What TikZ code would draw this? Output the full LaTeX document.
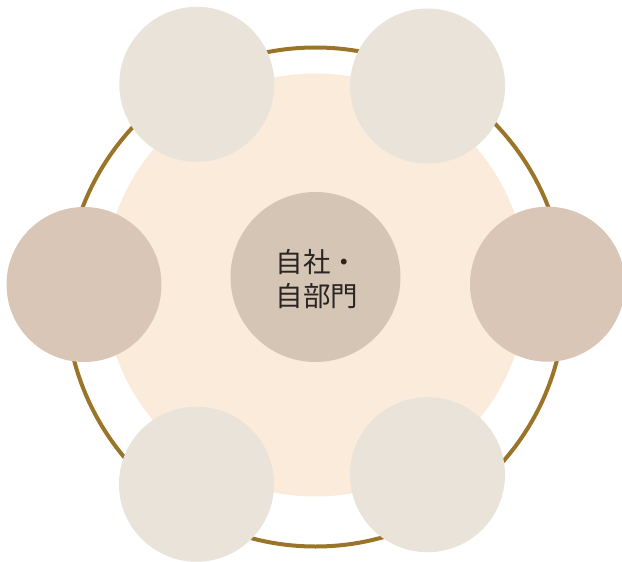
\documentclass[tikz,border=0pt]{standalone}
\usepackage{fontspec}
\newfontfamily\cjk{Noto Sans CJK JP}
\definecolor{ringc}{HTML}{9A7429}
\definecolor{peach}{HTML}{FBEBDB}
\definecolor{lightc}{HTML}{E9E3D9}
\definecolor{sidec}{HTML}{DAC6B6}
\definecolor{centerc}{HTML}{D5C5B5}
\definecolor{textc}{HTML}{2A2522}
\tikzset{
  outer/.style={circle, fill=lightc, minimum size=155pt, inner sep=0pt, draw=none},
  sidecircle/.style={circle, fill=sidec, minimum size=155pt, inner sep=0pt, draw=none},
}
\begin{document}
\begin{tikzpicture}[x=1pt,y=-1pt]
\useasboundingbox (0,0) rectangle (622,562);
\draw[ringc, line width=4pt] (315.5,297) circle (249.5);
\fill[peach] (315.5,285) circle (211.5);
\node[circle, fill=centerc, minimum size=170pt, inner sep=0pt] (center) at (315.5,277) {};
\node[text=textc, font=\cjk\fontsize{27.5}{34}\selectfont, align=center, inner sep=0pt] (label) at (317,279) {自社・\\自部門};
\node[outer] (tl) at (196.8,84.3) {};
\node[outer] (tr) at (427.6,86) {};
\node[sidecircle] (l) at (84,284.5) {};
\node[sidecircle] (r) at (547.5,284.2) {};
\node[outer] (bl) at (196.5,484.2) {};
\node[outer] (br) at (427.5,474.7) {};
\end{tikzpicture}
\end{document}
